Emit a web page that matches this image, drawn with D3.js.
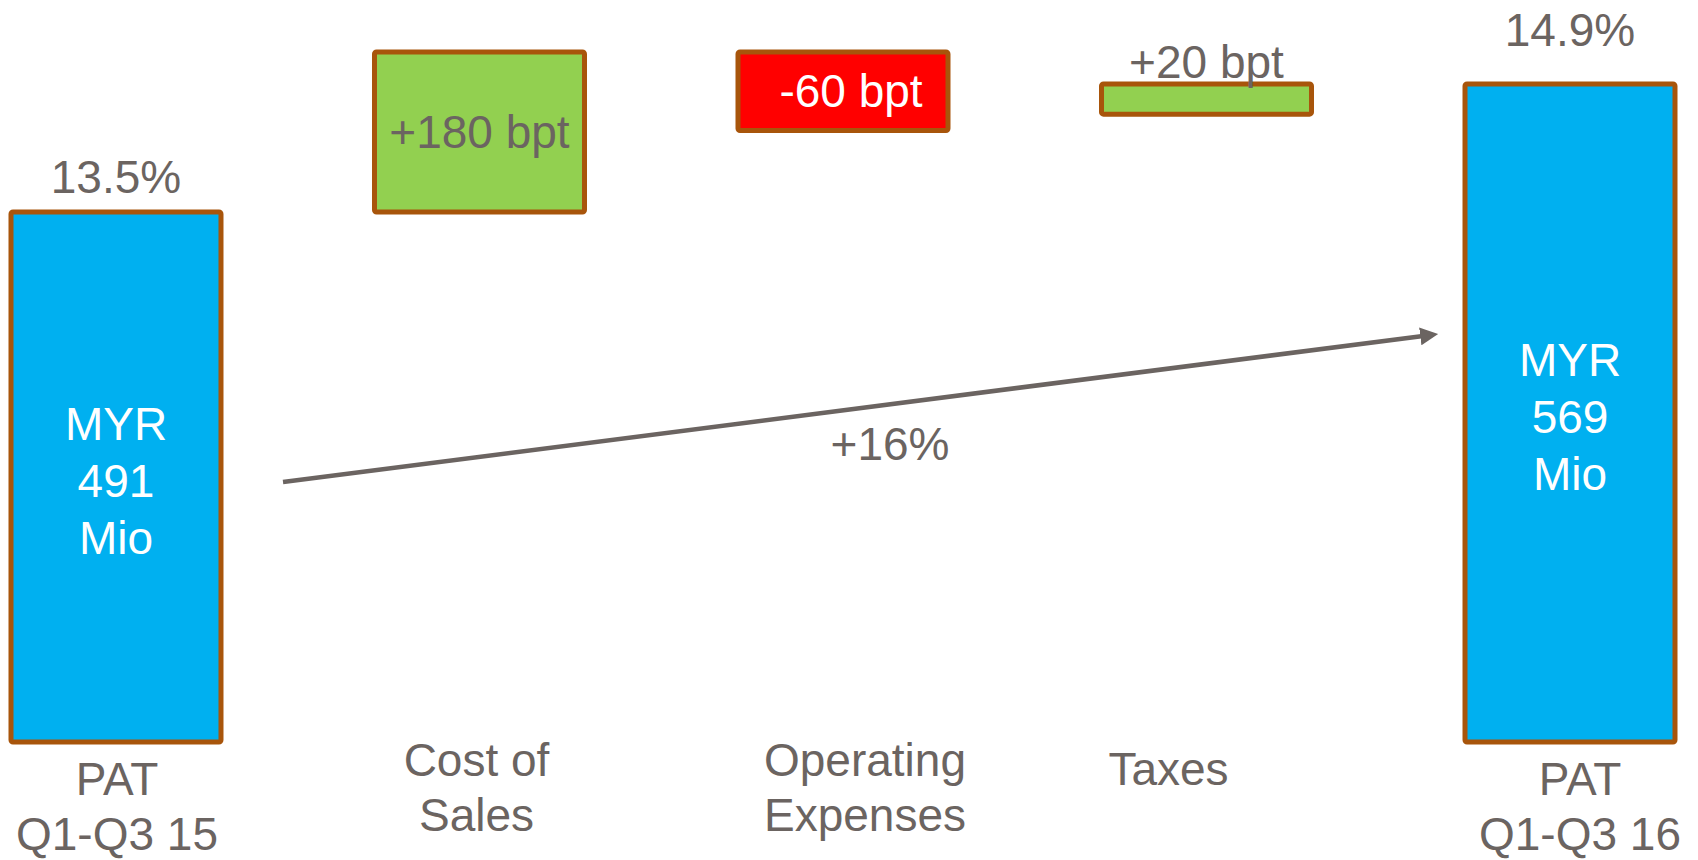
<!DOCTYPE html>
<html lang="en">
<head>
    <meta charset="UTF-8">
    <title>PAT bridge Q1-Q3 15 to Q1-Q3 16</title>
    <script type="application/javascript" src="https://cdnjs.cloudflare.com/ajax/libs/d3/7.8.5/d3.min.js"></script>
    <style type="text/css">
        body { margin: 0; background: #fff; }
        text { font-family: "Liberation Sans", Arial, sans-serif; }
    </style>
</head>
<body>
<svg width="1698" height="860"></svg>
<script type="application/javascript">
    // categories (one entry per bar, split into lines)
    var CATEGORIES = [
        ["PAT", "Q1-Q3 15"],
        ["Cost of", "Sales"],
        ["Operating", "Expenses"],
        ["Taxes"],
        ["PAT", "Q1-Q3 16"]
    ];
    var KINDS = ["total", "up", "down", "up", "total"];
    // margin in % (bottom / top of each box)
    var BAR_FROM = [7.7, 13.5, 14.39, 14.57, 7.7];
    var BAR_TO = [13.5, 15.25, 15.25, 14.9, 14.9];
    var VALUE_LABELS = ["13.5%", "+180 bpt", "-60 bpt", "+20 bpt", "14.9%"];
    var AMOUNT_LABELS = [["MYR", "491", "Mio"], null, null, null, ["MYR", "569", "Mio"]];
    var GROWTH_LABEL = "+16%";

    var COLORS = {total: "#00B0F0", up: "#92D050", down: "#FF0000"};
    var BORDER = "#A8550B";
    var GREY = "#6B6461";
    var FONT = 46;

    var svg = d3.select("svg");

    var x = d3.scaleBand()
            .domain(d3.range(CATEGORIES.length))
            .range([11, 1675])
            .paddingInner(0.4223)
            .paddingOuter(0);

    var y = d3.scaleLinear()
            .domain([7.7, 14.9])
            .range([742, 84]);

    var bw = x.bandwidth();

    // tweaks so labels sit where they do on the slide
    var topLift = [19, 0, 0, 6, 38];
    var catShift = [1, -3, 22, -38, 10];
    var catBase = [795, 776, 776, 785, 795];

    var idx = d3.range(CATEGORIES.length);

    svg.append("g")
            .selectAll("rect")
            .data(idx)
            .enter().append("rect")
            .attr("x", function (i) { return x(i); })
            .attr("y", function (i) { return y(Math.max(BAR_FROM[i], BAR_TO[i])); })
            .attr("width", bw)
            .attr("height", function (i) { return Math.abs(y(BAR_FROM[i]) - y(BAR_TO[i])); })
            .attr("rx", 2)
            .attr("fill", function (i) { return COLORS[KINDS[i]]; })
            .attr("stroke", BORDER)
            .attr("stroke-width", 5);

    // value labels
    svg.append("g")
            .attr("font-size", FONT)
            .attr("text-anchor", "middle")
            .selectAll("text")
            .data(idx)
            .enter().append("text")
            .attr("x", function (i) { return x(i) + bw / 2 + (i === 2 ? 8 : 0); })
            .attr("y", function (i) {
                var top = y(Math.max(BAR_FROM[i], BAR_TO[i]));
                var bot = y(Math.min(BAR_FROM[i], BAR_TO[i]));
                if (KINDS[i] === "total" || i === 3) {
                    return top - topLift[i];
                }
                return (top + bot) / 2 + 16;
            })
            .attr("fill", function (i) { return KINDS[i] === "down" ? "#fff" : GREY; })
            .text(function (i) { return VALUE_LABELS[i]; });

    // amounts inside the total bars
    idx.forEach(function (i) {
        if (!AMOUNT_LABELS[i]) { return; }
        var mid = (y(BAR_FROM[i]) + y(BAR_TO[i])) / 2;
        svg.append("text")
                .attr("font-size", FONT)
                .attr("text-anchor", "middle")
                .attr("fill", "#fff")
                .selectAll("tspan")
                .data(AMOUNT_LABELS[i])
                .enter().append("tspan")
                .attr("x", x(i) + bw / 2)
                .attr("y", function (d, j) { return mid + 20 + (j - 1) * 57; })
                .text(function (d) { return d; });
    });

    // category labels
    idx.forEach(function (i) {
        svg.append("text")
                .attr("font-size", FONT)
                .attr("text-anchor", "middle")
                .attr("fill", GREY)
                .selectAll("tspan")
                .data(CATEGORIES[i])
                .enter().append("tspan")
                .attr("x", x(i) + bw / 2 + catShift[i])
                .attr("y", function (d, j) { return catBase[i] + j * 55; })
                .text(function (d) { return d; });
    });

    // growth arrow between the two totals
    svg.append("defs").append("marker")
            .attr("id", "head")
            .attr("viewBox", "0 0 10 10")
            .attr("refX", 6)
            .attr("refY", 5)
            .attr("markerWidth", 4)
            .attr("markerHeight", 4)
            .attr("orient", "auto")
            .append("path")
            .attr("d", "M0,0L10,5L0,10z")
            .attr("fill", GREY);

    var ax0 = x(0) + bw + 62, ax1 = x(4) - 34;
    svg.append("line")
            .attr("x1", ax0)
            .attr("y1", 482)
            .attr("x2", ax1)
            .attr("y2", 335)
            .attr("stroke", GREY)
            .attr("stroke-width", 4.5)
            .attr("marker-end", "url(#head)");

    svg.append("text")
            .attr("x", 890)
            .attr("y", 460)
            .attr("font-size", FONT)
            .attr("text-anchor", "middle")
            .attr("fill", GREY)
            .text(GROWTH_LABEL);
</script>
</body>
</html>
